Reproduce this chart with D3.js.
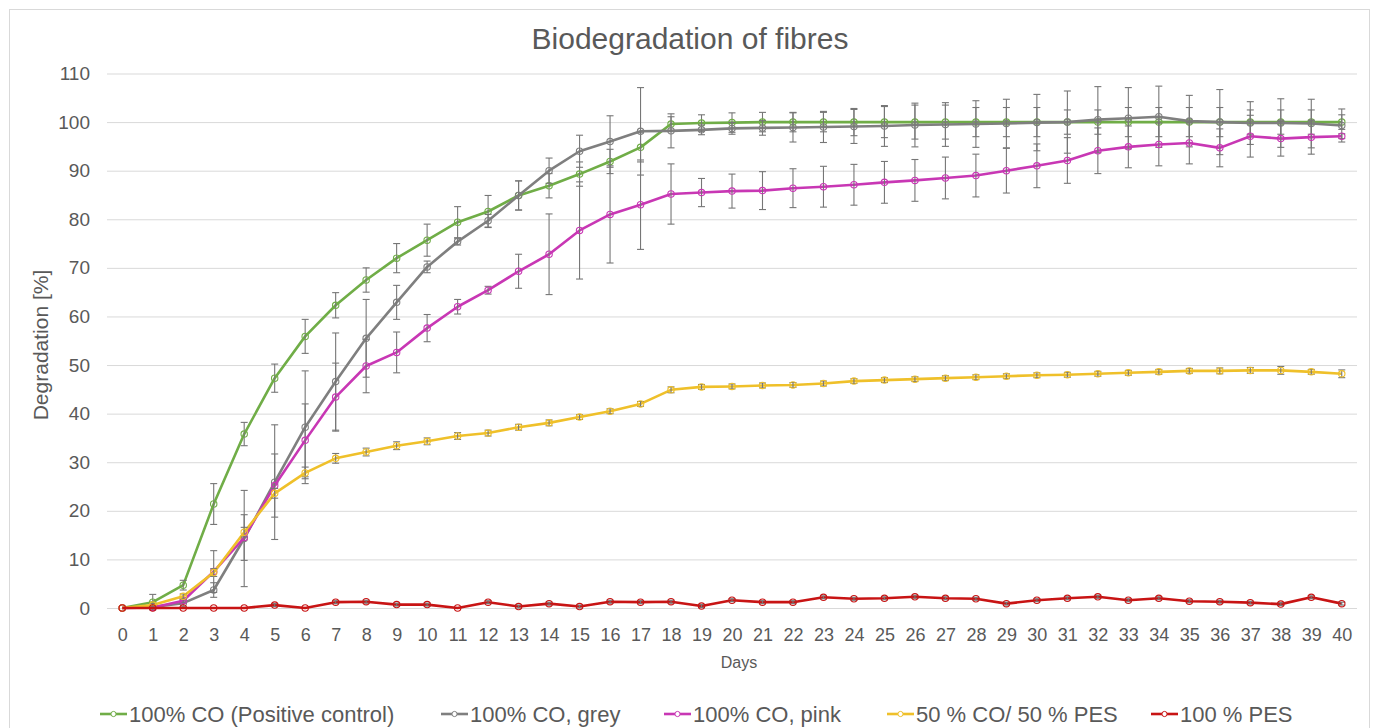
<!DOCTYPE html>
<html>
<head>
<meta charset="utf-8">
<script src="https://cdn.jsdelivr.net/npm/d3@7"></script>
<style>
body{margin:0;background:#fff;}
text{font-family:"Liberation Sans",Arial,sans-serif;fill:#595959;}
</style>
</head>
<body>
<script>
//-----------------------------------------------------------------------------------------------------------------DATA

var days = [0,1,2,3,4,5,6,7,8,9,10,11,12,13,14,15,16,17,18,19,20,21,22,23,24,25,26,27,28,29,30,31,32,33,34,35,36,37,38,39,40]
var yTicks = [0,10,20,30,40,50,60,70,80,90,100,110]

var seriesNames = ["100% CO (Positive control)", "100% CO, grey", "100% CO, pink", "50 % CO/ 50 % PES", "100 % PES"]

var positiveControl = [0,1.2,4.7,21.4,35.8,47.3,55.9,62.3,67.5,72.0,75.7,79.4,81.6,84.9,86.9,89.3,91.9,94.8,99.6,99.8,99.9,100,100,100,100,100,100,100,100,100,100,100,100,100,100,100,100,100,100,100,100]
var positiveControlErr = [0,1.6,1,4.2,2.4,2.9,3.5,2.6,2.5,3,3.3,3.2,3.3,3,2.5,2.5,2.5,3,1.5,1.7,2,2,2,2,2.8,3.2,3.5,3.5,3,3,3,2.5,2.5,3,3,3,3,2.5,2.5,2.5,1.5]

var coGrey = [0,0.2,1.0,3.7,14.3,25.9,37.2,46.6,55.5,62.9,70.2,75.4,79.7,84.9,90.0,94.0,96.0,98.1,98.2,98.4,98.7,98.8,98.9,99.0,99.1,99.2,99.4,99.5,99.6,99.7,99.9,100.0,100.5,100.8,101.1,100.2,100.0,99.8,99.8,99.7,99.3]
var coGreyErr = [0,0.2,0.8,1.5,9.9,11.8,11.6,10,8,3.5,1.2,0.7,1.3,3,2.6,3.3,5.3,9,3.5,1,1.2,1.5,3,3.2,3.5,4.2,4.5,4.5,4.8,5,5.8,6.4,6.8,6.3,6.3,5.3,6.7,4.4,5,5,3.4]

var coPink = [0,0.1,1.5,7.5,14.5,25.2,34.5,43.4,49.8,52.6,57.6,62.0,65.4,69.3,72.8,77.7,81.0,83.0,85.2,85.5,85.8,85.9,86.4,86.7,87.1,87.6,88.0,88.5,89.0,90.0,91.0,92.1,94.1,94.9,95.4,95.7,94.7,97.1,96.6,96.9,97.1]
var coPinkErr = [0,0,0.5,4.3,4.7,6.5,7.5,7,5.5,4.2,2.8,1.5,0.8,3.5,8.3,10,10,9.2,6.2,2.9,3.5,3.9,4,4.2,4.2,4.3,4.3,4.3,4.4,4.6,4.5,4.7,4.7,4.3,4.4,4.3,3.9,4.3,3.6,3.5,0.5]

var coPes = [0,0.6,2.4,7.3,15.6,23.6,27.8,30.8,32.1,33.4,34.3,35.4,36.0,37.2,38.1,39.3,40.5,42.0,44.9,45.5,45.6,45.8,45.9,46.2,46.7,46.9,47.1,47.3,47.5,47.7,47.9,48.0,48.2,48.4,48.6,48.8,48.8,48.9,48.9,48.6,48.2]
var coPesErr = [0,0.3,0.5,0.8,1,1,1.2,1,0.8,0.8,0.7,0.7,0.6,0.6,0.6,0.5,0.5,0.5,0.6,0.5,0.5,0.5,0.5,0.5,0.5,0.5,0.5,0.5,0.5,0.5,0.5,0.5,0.5,0.5,0.5,0.5,0.6,0.6,0.8,0.5,0.8]

var pes = [0,0,0,0,0,0.6,0,1.2,1.3,0.7,0.7,0,1.2,0.3,0.9,0.3,1.3,1.2,1.3,0.4,1.6,1.2,1.2,2.2,1.9,2.0,2.3,2.0,1.9,0.9,1.6,2.0,2.3,1.6,2.0,1.4,1.3,1.1,0.8,2.2,0.9]
var pesErr = [0,0,0,0,0,0.3,0,0.3,0.3,0.3,0.3,0,0.3,0.3,0.3,0.3,0.3,0.3,0.3,0.3,0.3,0.3,0.3,0.3,0.3,0.3,0.3,0.3,0.3,0.3,0.3,0.3,0.3,0.3,0.3,0.3,0.3,0.3,0.3,0.3,0.3]

var seriesColors = ["#70AD47", "#7F7F7F", "#C837B4", "#EFC02A", "#C81414"]

//-----------------------------------------------------------------------------------------------------------------LAYOUT

var width = 1376
var height = 728
var plot = {left:107, right:1357, top:73.5, bottom:608}
var legendY = 714
var legendX = [100, 441, 664, 887, 1151]

var series = [
	{name: seriesNames[0], color: seriesColors[0], values: positiveControl, err: positiveControlErr},
	{name: seriesNames[1], color: seriesColors[1], values: coGrey, err: coGreyErr},
	{name: seriesNames[2], color: seriesColors[2], values: coPink, err: coPinkErr},
	{name: seriesNames[3], color: seriesColors[3], values: coPes, err: coPesErr},
	{name: seriesNames[4], color: seriesColors[4], values: pes, err: pesErr}
]

var svg = d3.select("body").append("svg").attr("width", width).attr("height", height)

// chart frame
svg.append("rect").attr("x", 9.5).attr("y", 9.5).attr("width", 1360).attr("height", 740)
	.attr("fill", "#fff").attr("stroke", "#D9D9D9")

var x = d3.scalePoint().domain(days).range([plot.left, plot.right]).padding(0.5)
var y = d3.scaleLinear().domain([0, 110]).range([plot.bottom, plot.top])

// gridlines
var grid = svg.append("g").attr("transform", "translate(" + plot.left + ",0)")
	.call(d3.axisLeft(y).tickValues(yTicks).tickSize(-(plot.right - plot.left)).tickFormat(""))
grid.select(".domain").remove()
grid.selectAll("line").attr("stroke", "#D9D9D9")

// y labels
var yAxis = svg.append("g").attr("transform", "translate(" + plot.left + ",0)")
	.call(d3.axisLeft(y).tickValues(yTicks).tickSize(0).tickPadding(17))
yAxis.select(".domain").remove()
yAxis.selectAll("text").style("font-size", "19px").attr("fill", "#595959")

// x labels
var xAxis = svg.append("g").attr("transform", "translate(0," + plot.bottom + ")")
	.call(d3.axisBottom(x).tickSize(0).tickPadding(20))
xAxis.select(".domain").remove()
xAxis.selectAll("text").style("font-size", "18px").attr("fill", "#595959")

//-----------------------------------------------------------------------------------------------------------------SERIES

var line = d3.line().x(function(d, i){ return x(days[i]) }).y(function(d){ return y(d) })

series.forEach(function(s){
	var g = svg.append("g")

	g.append("path").datum(s.values)
		.attr("d", line)
		.attr("fill", "none")
		.attr("stroke", s.color)
		.attr("stroke-width", 2.6)
		.attr("stroke-linejoin", "round")

	// error bars (stem + two caps)
	for(var i=0;i<s.values.length;i++){
		if(!(s.err[i] > 0)) continue
		var cx = x(days[i])
		var top = y(s.values[i] + s.err[i])
		var bot = y(s.values[i] - s.err[i])
		g.append("line").attr("x1", cx).attr("x2", cx).attr("y1", top).attr("y2", bot)
			.attr("stroke", "#767676").attr("stroke-width", 1.1)
		g.append("line").attr("x1", cx - 3.5).attr("x2", cx + 3.5).attr("y1", top).attr("y2", top)
			.attr("stroke", "#767676").attr("stroke-width", 1.1)
		g.append("line").attr("x1", cx - 3.5).attr("x2", cx + 3.5).attr("y1", bot).attr("y2", bot)
			.attr("stroke", "#767676").attr("stroke-width", 1.1)
	}

	// markers
	g.selectAll("circle").data(s.values).enter().append("circle")
		.attr("cx", function(d, i){ return x(days[i]) })
		.attr("cy", function(d){ return y(d) })
		.attr("r", 3.2)
		.attr("fill", "none")
		.attr("stroke", s.color)
		.attr("stroke-width", 1.1)
})

//-----------------------------------------------------------------------------------------------------------------TEXTS

svg.append("text").attr("x", 690).attr("y", 38).attr("text-anchor", "middle")
	.attr("dominant-baseline", "central").style("font-size", "30px")
	.text("Biodegradation of fibres")

svg.append("text").attr("transform", "translate(40,345) rotate(-90)").attr("text-anchor", "middle")
	.attr("dominant-baseline", "central").style("font-size", "21px")
	.text("Degradation [%]")

svg.append("text").attr("x", 739).attr("y", 662).attr("text-anchor", "middle")
	.attr("dominant-baseline", "central").style("font-size", "16px")
	.text("Days")

// legend
series.forEach(function(s, i){
	var lg = svg.append("g").attr("transform", "translate(" + legendX[i] + "," + legendY + ")")
	lg.append("line").attr("x1", 0).attr("x2", 27).attr("y1", 0).attr("y2", 0)
		.attr("stroke", s.color).attr("stroke-width", 2.6)
	lg.append("circle").attr("cx", 13.5).attr("cy", 0).attr("r", 2.6)
		.attr("fill", "#fff").attr("stroke", s.color).attr("stroke-width", 1)
	lg.append("text").attr("x", 29).attr("y", 0).attr("dominant-baseline", "central")
		.style("font-size", "22px").text(s.name)
})
</script>
</body>
</html>
